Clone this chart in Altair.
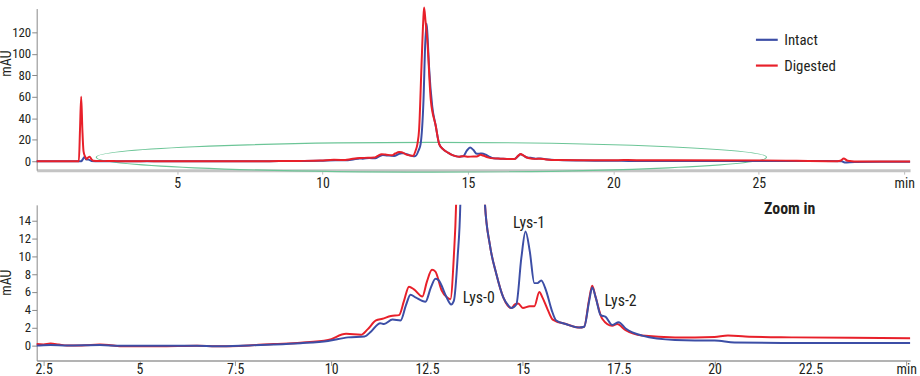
import altair as alt
import pandas as pd

FONT = "Noto Sans Condensed, Roboto Condensed, Roboto, sans-serif"
BLUE = "#3c4ea6"
RED = "#e8202a"
TXT = "#231f20"

# Retention time (min) and absorbance (mAU)
t_intact = [0.17, 1.70, 1.76, 1.81, 1.88, 1.95, 2.05, 2.32, 2.68, 3.11, 3.97, 4.49, 5.5, 6.5, 7.0,
            7.85, 8.5, 9.2, 9.92, 10.44, 10.87, 11.05, 11.28, 11.38, 11.6, 11.81, 11.95, 12.07,
            12.2, 12.46, 12.6, 12.72, 12.81, 13.0, 13.13, 13.2, 13.3, 13.37, 13.47, 13.53, 13.58,
            13.62, 13.66, 13.77, 13.89, 14.01, 14.14, 14.31, 14.49, 14.6, 14.7, 14.83, 14.96,
            15.07, 15.18, 15.3, 15.38, 15.48, 15.61, 15.75, 15.87, 16.12, 16.47, 16.6, 16.73,
            16.81, 16.9, 17.03, 17.16, 17.33, 17.5, 17.68, 18.11, 18.97, 19.49, 20.0, 20.52,
            22.07, 25.1, 27.3, 27.85, 27.95, 28.3, 30.2]
mau_intact = [0, 0, 2, 4, 1.5, 1.5, 0.3, 0.0, 0.05, 0, 0.05, -0.05, -0.05, -0.05, -0.1,
              0.0, 0.1, 0.25, 0.5, 0.9, 1.0, 1.6, 2.5, 2.4, 2.9, 2.8, 4.5, 5.7,
              5.4, 4.9, 6.5, 7.5, 7.3, 5.5, 4.6, 5.0, 10, 16, 57, 110, 128,
              110, 88, 51, 33, 16, 11.3, 8.0, 5.4, 4.6, 4.2, 4.6, 9.8,
              12.8, 10.6, 7.0, 7.0, 7.3, 6.1, 4.0, 2.8, 2.4, 2.0, 2.1, 5.0,
              6.5, 5.4, 3.4, 3.2, 2.3, 2.6, 1.9, 1.1, 0.6, 0.55, 0.55, 0.33,
              0.27, 0.27, 0.2, 0.0, -1.2, -0.6, -0.5]

t_digested = [0.17, 1.62, 1.66, 1.70, 1.74, 1.78, 1.84, 1.88, 1.94, 1.99, 2.05, 2.12, 2.32, 2.5,
              2.68, 2.9, 3.11, 3.5, 3.97, 4.2, 4.49, 5.5, 6.5, 7.0, 7.85, 8.5, 9.2, 9.92, 10.39,
              10.78, 10.95, 11.17, 11.34, 11.56, 11.77, 11.9, 12.03, 12.16, 12.38, 12.5, 12.63,
              12.72, 12.88, 13.02, 13.11, 13.2, 13.26, 13.32, 13.4, 13.46, 13.49, 13.54, 13.6,
              13.72, 13.89, 14.01, 14.14, 14.31, 14.49, 14.6, 14.7, 14.79, 14.88, 15.0, 15.18,
              15.3, 15.43, 15.51, 15.65, 15.78, 16.12, 16.47, 16.6, 16.73, 16.81, 16.9, 17.07,
              17.33, 17.46, 17.68, 18.11, 18.97, 19.49, 20.0, 20.35, 20.8, 22.07, 25.1, 27.6,
              27.8, 27.92, 28.05, 28.5, 30.2]
mau_digested = [0, 0, 30, 60, 30, 9.5, 4, 2, 3.5, 4.3, 2, 0.5, 0.15, 0.1,
                0.2, 0.1, 0, 0.0, 0.1, 0.05, -0.1, -0.1, -0.05, -0.1, 0.0, 0.15, 0.3, 0.6, 1.3,
                1.2, 1.8, 2.8, 3.0, 3.3, 3.4, 5.0, 6.6, 6.3, 5.5, 7.2, 8.5,
                8.3, 6.2, 5.4, 5.2, 10, 16, 30, 88, 130, 143, 130, 113,
                57, 33, 16, 11.3, 8.0, 5.4, 4.5, 4.2, 4.6, 4.7, 4.2, 4.4,
                4.4, 6.0, 5.4, 4.0, 2.9, 2.4, 2.0, 2.1, 5.2, 6.7, 5.4, 3.0,
                2.2, 2.4, 1.7, 1.1, 0.9, 0.9, 0.95, 1.1, 1.0, 0.9, 0.8, 0.0,
                0.5, 2.5, 0.5, -0.3, -0.3]

series_names = ["Intact", "Digested"]

top_x_ticks = [5, 10, 15, 20, 25, 30]
top_y_ticks = [0, 20, 40, 60, 80, 100, 120]
bot_x_ticks = [2.5, 5, 7.5, 10, 12.5, 15, 17.5, 20, 22.5, 25]
bot_y_ticks = [0, 2, 4, 6, 8, 10, 12, 14]

peak_labels = ["Lys-0", "Lys-1", "Lys-2"]
peak_label_t = [13.85, 15.16, 17.55]
peak_label_v = [5.3, 13.7, 5.0]

zoom_label = ["Zoom in"]
zoom_label_t = [21.96]
zoom_label_v = [15.3]

# highlighted region (ellipse) in the overview
ellipse_t = [13.74]
ellipse_v = [3.7]

df = pd.concat([
    pd.DataFrame({"t": t_intact, "v": mau_intact, "series": "Intact"}),
    pd.DataFrame({"t": t_digested, "v": mau_digested, "series": "Digested"}),
], ignore_index=True)
df_lab = pd.DataFrame({"t": peak_label_t, "v": peak_label_v, "text": peak_labels})
df_zoom = pd.DataFrame({"t": zoom_label_t, "v": zoom_label_v, "text": zoom_label})
df_ell = pd.DataFrame({"t": ellipse_t, "v": ellipse_v})

color = alt.Color(
    "series:N",
    scale=alt.Scale(domain=series_names, range=[BLUE, RED]),
    legend=alt.Legend(title=None, orient="none", legendX=724, legendY=19,
                      symbolType="stroke", symbolSize=484, symbolStrokeWidth=2.2,
                      labelFont=FONT, labelFontSize=15, labelColor=TXT,
                      rowPadding=5, labelOffset=5),
)

LINE = dict(strokeWidth=2, interpolate="monotone", strokeJoin="round")

# ---------- top overview ----------
xt = alt.X("t:Q", scale=alt.Scale(domain=[0.17, 30.2], nice=False, zero=False),
           axis=alt.Axis(title=None, values=top_x_ticks, grid=False, labelOverlap=False,
                         labelExpr="datum.value >= 30 ? 'min' : format(datum.value, '~g')",
                         domainColor="#c4c4c4", domainWidth=3, tickColor="#bbbbbb",
                         tickSize=4, labelPadding=2))
yt = alt.Y("v:Q", scale=alt.Scale(domain=[-8.3, 142], nice=False, zero=False),
           axis=alt.Axis(title="mAU", values=top_y_ticks, grid=False, labelOverlap=False,
                         labelFontSize=13,
                         titleX=-23, titleY=55, titleAngle=270,
                         domainColor="#888888", tickColor="#888888", tickSize=5,
                         labelPadding=1))

base_top = alt.Chart(df).encode(x=xt, y=yt, color=color)
top_blue = base_top.transform_filter(alt.datum.series == "Intact").mark_line(**LINE)
top_red = base_top.transform_filter(alt.datum.series == "Digested").mark_line(**LINE)

ellipse = alt.Chart(df_ell).mark_point(
    shape="M-1,0 A1,0.0444 0 1,1 1,0 A1,0.0444 0 1,1 -1,0 Z",
    size=456976, filled=False, stroke="#6cc597", strokeWidth=1.2, opacity=1,
).encode(x=xt, y=yt)

top = alt.layer(ellipse, top_blue, top_red).properties(width=881, height=163)

# ---------- bottom zoom ----------
xb = alt.X("t:Q", scale=alt.Scale(domain=[2.32, 25.1], nice=False, zero=False),
           axis=alt.Axis(title=None, values=bot_x_ticks, grid=False, labelOverlap=False,
                         labelExpr="datum.value >= 25 ? 'min' : format(datum.value, '~g')",
                         domainColor="#9a9a9a", domainWidth=1.5, tickColor="#9a9a9a",
                         tickSize=5, labelPadding=-3))
yb = alt.Y("v:Q", scale=alt.Scale(domain=[-1.7, 15.8], nice=False, zero=False),
           axis=alt.Axis(title="mAU", values=bot_y_ticks, grid=False, labelOverlap=False,
                         labelFontSize=13,
                         titleX=-23, titleY=78, titleAngle=270,
                         domainColor="#888888", tickColor="#888888", tickSize=5,
                         labelPadding=1))

base_bot = alt.Chart(df).encode(x=xb, y=yb, color=color)
bot_red = base_bot.transform_filter(alt.datum.series == "Digested").mark_line(clip=True, **LINE)
bot_blue = base_bot.transform_filter(alt.datum.series == "Intact").mark_line(clip=True, **LINE)

labels = alt.Chart(df_lab).mark_text(font=FONT, fontSize=16, color=TXT).encode(
    x=xb, y=yb, text="text:N")
zoom_txt = alt.Chart(df_zoom).mark_text(font=FONT, fontSize=16, fontWeight="bold", color=TXT).encode(
    x=xb, y=yb, text="text:N")

bottom = alt.layer(bot_red, bot_blue, labels, zoom_txt).properties(width=881, height=157)

chart = alt.vconcat(top, bottom, spacing=11).properties(
    padding={"left": 0, "top": 4, "right": 3, "bottom": 0},
    background="white",
).configure_view(stroke=None).configure_axis(
    labelFont=FONT, labelFontSize=14, labelColor=TXT,
    titleFont=FONT, titleFontSize=14, titleColor=TXT, titleFontWeight="normal",
)

chart.save("out.html", embed_options={"renderer": "svg", "actions": False})
